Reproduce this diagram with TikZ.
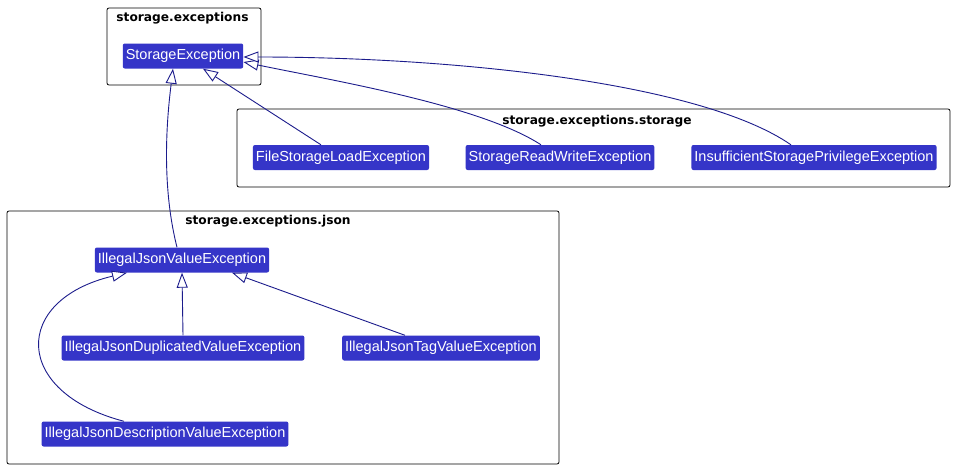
\documentclass[tikz,border=0pt]{standalone}
\usepackage{fontspec}
\setmainfont{Liberation Sans}
\newfontfamily\titlefont{DejaVu Sans}
\usetikzlibrary{arrows.meta}
\definecolor{clsfill}{RGB}{53,53,200}
\definecolor{linkblue}{RGB}{28,28,140}
\tikzset{
  cls/.style={fill=clsfill, text=white, rounded corners=2pt, inner xsep=3pt, minimum height=25pt, font=\fontsize{14.5}{17}\selectfont},
  pkg/.style={draw=black, line width=0.8pt, rounded corners=2pt, inner sep=0pt},
  pkgtitle/.style={font=\titlefont\bfseries\fontsize{12.2}{14}\selectfont, inner sep=0pt},
  inherit/.style={draw=linkblue, line width=0.9pt, -{Triangle[open, length=15pt, width=11pt, fill=white]}},
}

\begin{document}
\begin{tikzpicture}[x=1pt, y=-1pt]
  \fill[white] (0,0) rectangle (959,469);
  \useasboundingbox (0,0) rectangle (959,469);
  % packages
  \node[pkg, minimum width=154pt, minimum height=77pt] (pexc) at (184,46.5) {};
  \node[pkg, minimum width=713pt, minimum height=78pt] (pstore) at (593.5,148) {};
  \node[pkg, minimum width=552pt, minimum height=253pt] (pjson) at (283,337.5) {};
  \node[pkgtitle] (texc) at (182.5,18.5) {storage.exceptions};
  \node[pkgtitle] (tstore) at (597,121.5) {storage.exceptions.storage};
  \node[pkgtitle] (tjson) at (268,221.5) {storage.exceptions.json};
  % classes
  \node[cls] (se) at (183,56) {StorageException};
  \node[cls] (fsl) at (341,157.5) {FileStorageLoadException};
  \node[cls] (srw) at (560,157.5) {StorageReadWriteException};
  \node[cls] (isp) at (814,157.5) {InsufficientStoragePrivilegeException};
  \node[cls] (jv) at (182,260) {IllegalJsonValueException};
  \node[cls] (jdup) at (183,348) {IllegalJsonDuplicatedValueException};
  \node[cls] (jtag) at (441,348) {IllegalJsonTagValueException};
  \node[cls] (jdesc) at (165,434) {IllegalJsonDescriptionValueException};
  % inheritance
  \draw[inherit] ([xshift=-5pt]jv.north) .. controls (160,180) and (168,110) .. ([xshift=-10pt]se.south);
  \draw[inherit] ([xshift=-20pt]fsl.north) -- ([xshift=20pt]se.south);
  \draw[inherit] ([xshift=-19pt]srw.north) .. controls (480,105) and (330,80) .. ([yshift=-6pt]se.east);
  \draw[inherit] ([xshift=-23pt]isp.north) .. controls (700,82) and (450,57) .. ([yshift=-1pt]se.east);
  \draw[inherit] (jdup.north) -- (jv.south);
  \draw[inherit] ([xshift=-36pt]jtag.north) -- ([xshift=50pt]jv.south);
  \draw[inherit] ([xshift=-41pt]jdesc.north) .. controls (12,392) and (12,300) .. ([xshift=-55pt]jv.south);
\end{tikzpicture}
\end{document}
